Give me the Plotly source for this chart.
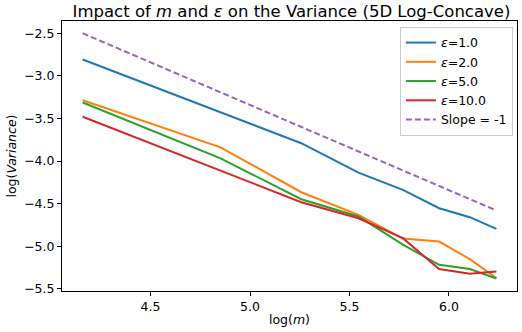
import numpy as np
import plotly.graph_objects as go

m_values = [64, 128, 192, 256, 320, 384, 448, 512]
log_m = list(np.log(m_values))

var_eps1 = [-2.808, -3.427, -3.79, -4.136, -4.338, -4.553, -4.658, -4.795]
var_eps2 = [-3.285, -3.838, -4.365, -4.63, -4.909, -4.944, -5.15, -5.372]
var_eps5 = [-3.312, -3.967, -4.447, -4.65, -4.98, -5.217, -5.267, -5.377]
var_eps10 = [-3.48, -4.109, -4.482, -4.67, -4.904, -5.267, -5.322, -5.295]

series_names = ["<i>ε</i>=1.0", "<i>ε</i>=2.0", "<i>ε</i>=5.0", "<i>ε</i>=10.0"]
series_values = [var_eps1, var_eps2, var_eps5, var_eps10]
colors = ["#1f77b4", "#ff7f0e", "#2ca02c", "#d62728"]

slope_start = -2.5
slope_line = [slope_start - (x - log_m[0]) for x in log_m]

fig = go.Figure()
for name, vals, c in zip(series_names, series_values, colors):
    fig.add_trace(go.Scatter(x=log_m, y=vals, mode="lines", name=name,
                             line=dict(color=c, width=2)))
fig.add_trace(go.Scatter(x=[log_m[0], log_m[-1]], y=[slope_line[0], slope_line[-1]],
                         mode="lines", name="Slope = -1",
                         line=dict(color="#9467bd", width=2, dash="6px,3px")))

font = dict(family="DejaVu Sans", size=12.5, color="black")
fig.update_layout(
    width=522, height=332,
    margin=dict(l=62, r=5, t=21, b=41),
    plot_bgcolor="white", paper_bgcolor="white",
    font=font,
    title=dict(text="Impact of <i>m</i> and <i>ε</i> on the Variance (5D Log-Concave)",
               x=(291.5 / 522), xanchor="center", y=1 - 11 / 332, yanchor="middle",
               yref="container", font=dict(family="DejaVu Sans", size=16.5, color="black")),
    xaxis=dict(range=[4.055, 6.342], tickvals=[4.5, 5.0, 5.5, 6.0], tickformat=".1f",
               showline=True, linecolor="black", linewidth=1, mirror=True,
               ticks="outside", ticklen=4, tickcolor="black", showgrid=False, zeroline=False,
               title=dict(text="log(<i>m</i>)", standoff=2, font=font)),
    yaxis=dict(range=[-5.524, -2.356], tickvals=[-5.5, -5.0, -4.5, -4.0, -3.5, -3.0, -2.5],
               tickformat=".1f",
               showline=True, linecolor="black", linewidth=1, mirror=True,
               ticks="outside", ticklen=4, tickcolor="black", showgrid=False, zeroline=False,
               title=dict(text="log(<i>Variance</i>)", standoff=4, font=font)),
    legend=dict(x=0.991, xanchor="right", y=0.978, yanchor="top",
                bordercolor="#cccccc", borderwidth=1, bgcolor="rgba(255,255,255,0.8)",
                itemwidth=30, font=font, tracegroupgap=0),
    showlegend=True,
)

fig.write_html("out.html", config={"displayModeBar": False},
               post_script="document.body.style.margin='0';document.body.style.overflow='hidden';")
